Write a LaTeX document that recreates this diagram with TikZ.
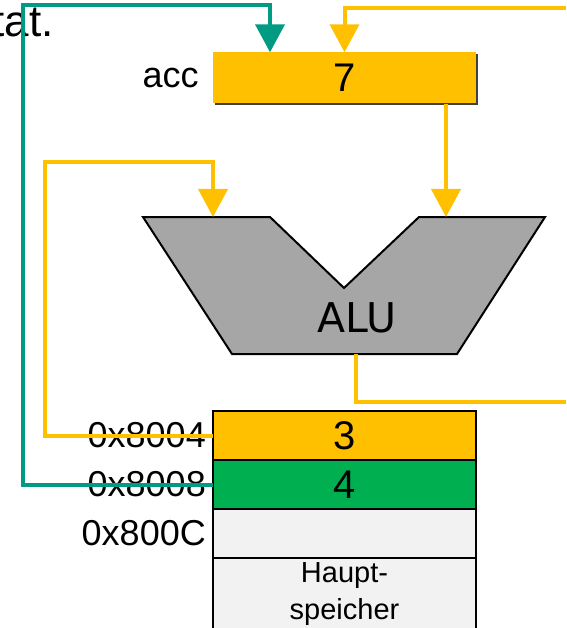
\documentclass[tikz,border=0pt]{standalone}
\usepackage{fontspec}
\setmainfont{Liberation Sans}
\newfontfamily\alufont{DejaVu Sans}
\usepackage{xcolor}
\usetikzlibrary{positioning,arrows.meta,shadows}

\definecolor{regorange}{RGB}{255,192,0}
\definecolor{memgreen}{RGB}{0,176,80}
\definecolor{wireteal}{RGB}{0,155,130}
\definecolor{alugray}{RGB}{166,166,166}
\definecolor{cellgray}{RGB}{242,242,242}

\begin{document}
\begin{tikzpicture}[
  x=1pt, y=-1pt,
  font=\fontsize{36}{40}\selectfont,
  cell/.style  = {draw, line width=2.5pt, minimum width=263pt,
                  minimum height=49pt, inner sep=0pt, outer sep=0pt,
                  font=\fontsize{40}{44}\selectfont},
  reg/.style   = {fill=regorange, minimum width=263pt, minimum height=51pt,
                  inner sep=0pt, font=\fontsize{40}{44}\selectfont,
                  drop shadow={shadow xshift=2pt, shadow yshift=-2pt,
                               fill=black!75, opacity=1}},
  addr/.style  = {inner sep=0pt},
  wire/.style  = {line width=4pt},
  flow/.style  = {wire, -{Triangle[width=29pt,length=28pt]}},
]
\useasboundingbox (0,0) rectangle (566,628);

% ---------- slide text ----------
\node[anchor=base east, font=\fontsize{44}{48}\selectfont] (prevtxt) at (57,37) {tat.};

% ---------- accumulator ----------
\node[reg] (acc) at (344.5,78) {7};
\node[addr, left=14pt of acc] (acclbl) {acc};

% ---------- ALU ----------
\draw[fill=alugray, line width=2pt, line join=miter]
  (143,217) -- (270,217) -- (344,288) -- (419,217) -- (545,217)
  -- (457,354) -- (232,354) -- cycle;
\node[font=\alufont\fontsize{41}{44}\selectfont] (alu) at (357,318) {ALU};
\coordinate (aluinL) at (213,217);
\coordinate (aluinR) at (446,217);
\coordinate (aluout) at (356,354);

% ---------- memory ----------
\node[cell, fill=regorange] (m1) at (344.5,435.5) {3};
\node[cell, fill=memgreen, below=0pt of m1] (m2) {4};
\node[cell, fill=cellgray, below=0pt of m2] (m3) {};
\node[cell, fill=cellgray, below=0pt of m3, minimum height=90pt] (m4) {};
\node[below=4pt of m4.north, font=\fontsize{29}{37}\selectfont,
      align=center, inner sep=0pt] (hs) {Haupt-\\speicher};

\node[addr, left=7pt of m1] (a1) {0x8004};
\node[addr, left=7pt of m2] (a2) {0x8008};
\node[addr, left=7pt of m3] (a3) {0x800C};

% ---------- wires ----------
\coordinate (tealcorner) at (23,5);
\coordinate (orgcorner)  at (45,162);
\coordinate (topin)      at (566,8.5);
\coordinate (aluend)     at (566,402);

\draw[flow, wireteal]
  (m2.west) -| (tealcorner) -| ([xshift=-74.5pt]acc.north);
\draw[flow, regorange]
  (topin) -| (acc.north);
\draw[flow, regorange]
  (acc.south -| aluinR) -- (aluinR);
\draw[flow, regorange]
  (m1.west) -| (orgcorner) -| (aluinL);
\draw[wire, regorange]
  (aluout) |- (aluend);

\end{tikzpicture}
\end{document}
